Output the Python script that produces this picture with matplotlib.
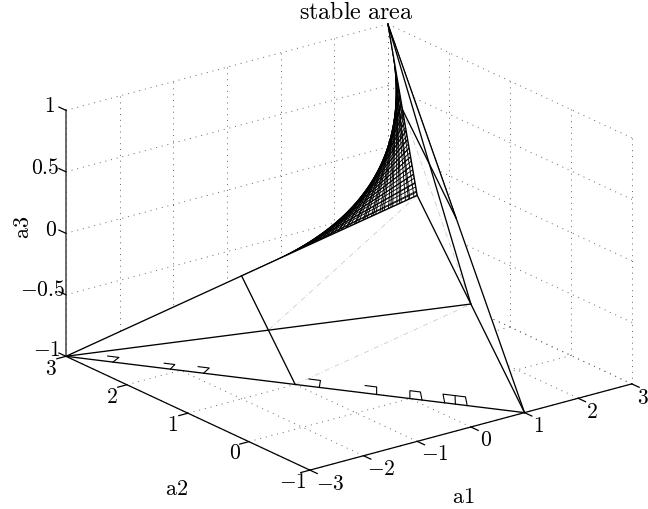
import matplotlib
matplotlib.use("Agg")
import numpy as np
import matplotlib.pyplot as plt
from mpl_toolkits.mplot3d import proj3d
from mpl_toolkits.mplot3d.art3d import Poly3DCollection

plt.rcParams["mathtext.fontset"] = "cm"

# Axis ticks
a1_ticks = [-3, -2, -1, 0, 1, 2, 3]
a2_ticks = [-1, 0, 1, 2, 3]
a3_ticks = [-1, -0.5, 0, 0.5, 1]
a1_labels = ["-3", "-2", "-1", "0", "1", "2", "3"]
a2_labels = ["-1", "0", "1", "2", "3"]
a3_labels = ["-1", "-0.5", "0", "0.5", "1"]

# Corners of the stable region (a1, a2, a3)
A = (-3, 3, -1)
B = (1, -1, -1)
C = (3, 3, 1)
D = (-1, -1, 1)

# Black lines on the faces
black_lines = [
    (A, B), (A, D), (B, C), (C, D), (D, B),
    (A, (0, -1, 0)), (C, (0, -1, 0)),
    ((-2, 1, 0), (-1, 1, -1)), ((1, 1, 1), (2, 1, 0)),
]
# Light grey dash-dot lines
grey_lines = [
    (D, (-1.5, 1, -0.5)), ((-1, 1, -1), (0, -1, 0)), ((1, 1, 1), (0, -1, 0)),
]

# Mesh of the curved face: z^3 + a1 z^2 + a2 z + a3 with roots on the unit circle
mesh_s = [0.0, 0.05, 0.1, 0.15, 0.2, 0.25, 0.3, 0.35, 0.4, 0.45, 0.5, 0.55, 0.6,
          0.65, 0.7, 0.75, 0.8, 0.85, 0.9, 0.95, 1.0]
mesh_c = [-2.0, -1.9, -1.8, -1.7, -1.6, -1.5, -1.4, -1.3, -1.2, -1.1, -1.0, -0.9,
          -0.8, -0.7, -0.6, -0.5, -0.4, -0.3, -0.2, -0.1, 0.0, 0.1, 0.2, 0.3, 0.4,
          0.5, 0.6, 0.7, 0.8, 0.9, 1.0, 1.1, 1.2, 1.3, 1.4, 1.5, 1.6, 1.7, 1.8, 1.9, 2.0]

# Small stubs sticking out of the bottom edge: a1 along the edge, height over it
stub_a1 = [[-2.636, -2.538, -2.59], [-2.143, -2.05, -2.09], [-1.847, -1.75, -1.80],
           [-0.879, -0.78, -0.79], [-0.39, -0.29, -0.29], [0.0, 0.0, 0.092, 0.106],
           [0.304, 0.289, 0.485, 0.50], [0.394, 0.397]]
stub_h = [[0.044, 0.044, 0], [0.042, 0.042, 0], [0.048, 0.048, 0],
          [0.058, 0.058, 0], [0.061, 0.061, 0], [0, 0.064, 0.064, 0],
          [0, 0.069, 0.069, 0], [0.069, 0]]

fig = plt.figure(figsize=(6.48, 5.10), dpi=100)
ax = fig.add_axes([18 / 648, 0, 1, 1], projection="3d", proj_type="ortho")
ax.computed_zorder = False
ax.set_xlim(-3, 3, view_margin=0)
ax.set_ylim(-1, 3, view_margin=0)
ax.set_zlim(-1, 1, view_margin=0)
ax.view_init(elev=20.7, azim=-127.15)
ax.set_box_aspect((404, 404, 263), zoom=1.197)
ax.set_axis_off()


def line3d(p, q, **kw):
    ax.plot([p[0], q[0]], [p[1], q[1]], [p[2], q[2]], clip_on=False, **kw)


def label3d(x, y, z, text, dx, dy):
    # dx, dy are pixels on the picture, y going down
    u, v, _ = proj3d.proj_transform(x, y, z, ax.get_proj())
    ax.annotate(text, (u, v), xytext=(dx * 0.72, -dy * 0.72), textcoords="offset points",
                ha="center", va="center", fontsize=15.5, annotation_clip=False)


def tex(s):
    return "$" + s + "$"


# Dotted grid on the floor and the two back walls
grid = dict(color="#666666", lw=0.7, ls=(0, (1, 5)), zorder=1)
for v in a1_ticks:
    line3d((v, -1, -1), (v, 3, -1), **grid)
    line3d((v, 3, -1), (v, 3, 1), **grid)
for v in a2_ticks:
    line3d((-3, v, -1), (3, v, -1), **grid)
    line3d((3, v, -1), (3, v, 1), **grid)
for v in a3_ticks:
    line3d((-3, 3, v), (3, 3, v), **grid)
    line3d((3, 3, v), (3, -1, v), **grid)

# Curved face, white with black mesh
s_grid, c_grid = np.meshgrid(mesh_s, mesh_c)
surf = ax.plot_surface(s_grid + c_grid, 1 + c_grid * s_grid, s_grid, color="white", shade=False,
                       rstride=1, cstride=1, linewidth=0, antialiased=False, zorder=2)
surf.set_clip_on(False)
for s in mesh_s:
    line3d((s - 2, 1 - 2 * s, s), (s + 2, 1 + 2 * s, s), color="black", lw=0.65, zorder=3)
for c in mesh_c:
    line3d((mesh_s[0] + c, 1 + c * mesh_s[0], mesh_s[0]), (1 + c, 1 + c, 1),
           color="black", lw=0.65, zorder=3)

# Flat faces in front hide most of the mesh and the grid
faces = Poly3DCollection([[A, D, B], [B, D, C]], facecolors="white", edgecolors="none", zorder=4)
ax.add_collection3d(faces)
faces.set_clip_on(False)

for p, q in grey_lines:
    line3d(p, q, color="#cccccc", lw=0.6, ls=(0, (6, 3, 1, 3)), zorder=5)
for p, q in black_lines:
    line3d(p, q, color="black", lw=0.95, zorder=6)
for xs, hs in zip(stub_a1, stub_h):
    ax.plot(xs, [-x for x in xs], [-1 + h for h in hs], color="black", lw=0.8, zorder=6)

# Axis lines and ticks
axis_kw = dict(color="black", lw=0.9, zorder=6)
line3d((-3, -1, -1), (3, -1, -1), **axis_kw)
line3d((-3, -1, -1), (-3, 3, -1), **axis_kw)
line3d((-3, 3, -1), (-3, 3, 1), color="#444444", lw=1.1, zorder=6)
for v in a1_ticks:
    line3d((v, -1, -1), (v, -1.12, -1), **axis_kw)
for v in a2_ticks:
    line3d((-3, v, -1), (-3.17, v, -1), **axis_kw)
for v in a3_ticks:
    line3d((-3, 3, v), (-3, 3.115, v), **axis_kw)

# Tick labels
a1_off = [(20, 13), (18, 12), (18, 12), (15, 12.5), (14, 12), (14, 12.5), (11, 13)]
a2_off = [(-17, 11), (-14, 10), (-15, 10.5), (-15, 11), (-15, 12)]
a3_off = [(-19, -7), (-23, -6), (-15, -4.5), (-21, -4.5), (-16, -5)]
for v, t, o in zip(a1_ticks, a1_labels, a1_off):
    label3d(v, -1, -1, tex(t), *o)
for v, t, o in zip(a2_ticks, a2_labels, a2_off):
    label3d(-3, v, -1, tex(t), *o)
for v, t, o in zip(a3_ticks, a3_labels, a3_off):
    label3d(-3, 3, v, tex(t), *o)

# Axis labels and title
fig.text(463 / 648, 1 - 497 / 510, r"$\mathrm{a1}$", fontsize=16, ha="center", va="center")
fig.text(177 / 648, 1 - 489 / 510, r"$\mathrm{a2}$", fontsize=16, ha="center", va="center")
fig.text(23 / 648, 1 - 227 / 510, r"$\mathrm{a3}$", fontsize=16, ha="center", va="center",
         rotation=90)
fig.text(356 / 648, 1 - 12 / 510, r"$\mathrm{stable\ area}$", fontsize=17.3, ha="center",
         va="center")

fig.savefig("out.png", dpi=100)
